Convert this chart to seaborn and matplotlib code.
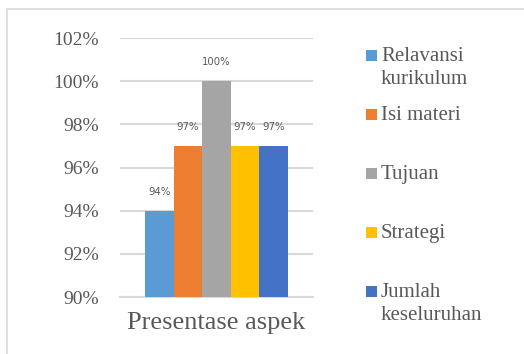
import matplotlib
matplotlib.use("Agg")
import matplotlib.pyplot as plt
from matplotlib.patches import Rectangle
from matplotlib.ticker import PercentFormatter
import pandas as pd
import seaborn as sns

# data
category = ["Presentase aspek"]
aspects = ["Relavansi\nkurikulum", "Isi materi", "Tujuan", "Strategi", "Jumlah\nkeseluruhan"]
values = [0.94, 0.97, 1.00, 0.97, 0.97]
colors = ["#5B9BD5", "#ED7D31", "#A5A5A5", "#FFC000", "#4472C4"]
y_ticks = [0.90, 0.92, 0.94, 0.96, 0.98, 1.00, 1.02]

df = pd.DataFrame({"kategori": category * len(aspects), "aspek": aspects, "nilai": values})

sns.set_style("white")
plt.rcParams["font.family"] = ["Liberation Serif", "DejaVu Serif"]
text_color = "#595959"
grid_color = "#D9D9D9"

fig = plt.figure(figsize=(5.24, 3.54), dpi=100)
ax = fig.add_axes([120 / 524, 1 - 297 / 354, 193 / 524, 259 / 354])

sns.barplot(data=df, x="kategori", y="nilai", hue="aspek", hue_order=aspects,
            palette=colors, width=0.736, gap=0, saturation=1, ax=ax,
            legend=False, linewidth=0, zorder=3)

for cont in ax.containers:
    ax.bar_label(cont, labels=[f"{v:.0%}" for v in cont.datavalues], padding=10,
                 fontsize=7.3, color=text_color, family=["DejaVu Sans"])

ax.set_ylim(y_ticks[0], y_ticks[-1])
ax.set_xlim(-0.5, 0.5)
ax.set_yticks(y_ticks)
ax.yaxis.set_major_formatter(PercentFormatter(1.0, decimals=0))
ax.tick_params(axis="y", length=0, pad=15, labelsize=14, labelcolor=text_color)
ax.tick_params(axis="x", which="major", length=0, pad=11, labelsize=19, labelcolor=text_color)
ax.set_xticks([-0.5, 0.5], minor=True)
ax.tick_params(axis="x", which="minor", length=6, width=1.2, color=grid_color, direction="out")
ax.set_xlabel("")
ax.set_ylabel("")
ax.yaxis.grid(True, color=grid_color, linewidth=1.5, zorder=0)
ax.set_axisbelow(True)
for side in ["left", "right", "top"]:
    ax.spines[side].set_visible(False)
ax.spines["bottom"].set_color(grid_color)
ax.spines["bottom"].set_linewidth(1.5)

# legend laid out like the Excel one: markers evenly spaced on the first text line
legend_y = [55, 114, 173, 232, 291]
for lab, col, ly in zip(aspects, colors, legend_y):
    yy = 1 - ly / 354
    fig.patches.append(Rectangle((366 / 524, yy - 5.5 / 354), 11 / 524, 11 / 354,
                                 transform=fig.transFigure, facecolor=col, edgecolor="none"))
    fig.text(381 / 524, yy + 8 / 354, lab, ha="left", va="top", fontsize=15,
             color=text_color, linespacing=1.3)

# chart frame
fig.patches.append(Rectangle((7 / 524, -0.1), 1.2, 1.1 - 9 / 354, transform=fig.transFigure,
                             facecolor="none", edgecolor=grid_color, linewidth=1.2))

fig.savefig("out.png", dpi=100)
